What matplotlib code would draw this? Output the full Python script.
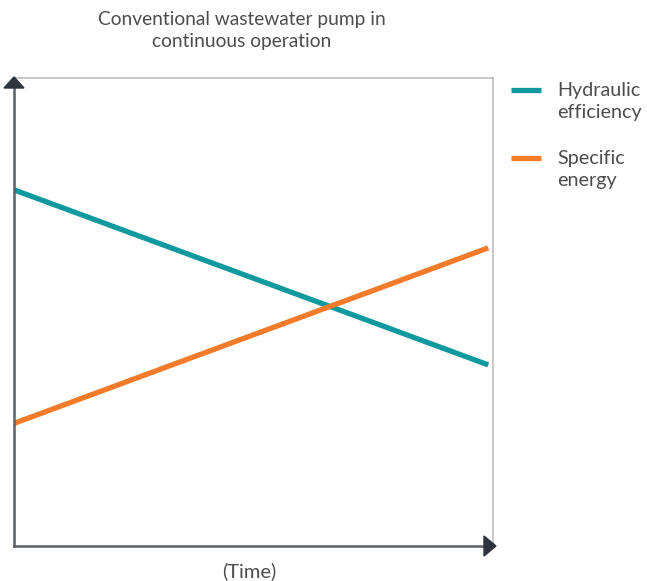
import matplotlib
matplotlib.use("Agg")
import matplotlib.pyplot as plt
from matplotlib.patches import Polygon
from matplotlib.lines import Line2D

plt.rcParams['font.family'] = ['Lato', 'DejaVu Sans']

# Data (relative units, no scale shown)
time = [0.0, 0.99]
hydraulic_efficiency = [0.761, 0.387]
specific_energy = [0.262, 0.637]
series_labels = ["Hydraulic\nefficiency", "Specific\nenergy"]
title_text = "Conventional wastewater pump in\ncontinuous operation"
xlabel_text = "(Time)"

teal = "#10999f"
orange = "#f47b2a"
text_color = "#4d4d4d"

W, H = 647, 581
fig = plt.figure(figsize=(W / 100, H / 100), dpi=100)
ax_l, ax_r, ax_t, ax_b = 14, 493, 78, 546
ax = fig.add_axes([ax_l / W, 1 - ax_b / H, (ax_r - ax_l) / W, (ax_b - ax_t) / H])
ax.set_xlim(0, 1)
ax.set_ylim(0, 1)

ax.plot(time, hydraulic_efficiency, color=teal, lw=3.8, solid_capstyle='butt')
ax.plot(time, specific_energy, color=orange, lw=3.8, solid_capstyle='butt')

ax.set_xticks([])
ax.set_yticks([])
for s in ['top', 'right']:
    ax.spines[s].set_color('#c4c4c4')
    ax.spines[s].set_linewidth(1.3)
for s in ['left', 'bottom']:
    ax.spines[s].set_color('#5b6067')
    ax.spines[s].set_linewidth(1.8)
ax.spines['left'].set_zorder(5)
ax.spines['bottom'].set_zorder(5)

# arrowheads (figure pixel coordinates converted to fractions)
def fp(x, y):
    return (x / W, 1 - y / H)

arrow_color = "#2d3440"
up = Polygon([fp(14, 77), fp(4, 88), fp(24, 88)], closed=True, color=arrow_color,
             transform=fig.transFigure, clip_on=False, zorder=10)
right = Polygon([fp(496, 546), fp(484, 536), fp(484, 556)], closed=True, color=arrow_color,
                transform=fig.transFigure, clip_on=False, zorder=10)
fig.add_artist(up)
fig.add_artist(right)

# title and x label
fig.text(241.5 / W, 1 - 30.5 / H, title_text, ha='center', va='center', fontsize=13.8,
         color=text_color, linespacing=1.42)
fig.text(249.5 / W, 1 - 571 / H, xlabel_text, ha='center', va='center', fontsize=14.5,
         color=text_color)

# legend
for (ly, lab, col) in [(90, series_labels[0], teal), (158, series_labels[1], orange)]:
    fig.add_artist(Line2D([511 / W, 541 / W], [1 - ly / H, 1 - ly / H], color=col, lw=3.8,
                          transform=fig.transFigure, solid_capstyle='butt'))
    fig.text(557 / W, 1 - (ly + 11.5) / H, lab, ha='left', va='center', fontsize=14.2,
             color=text_color, linespacing=1.3)

fig.savefig("out.png", dpi=100)
